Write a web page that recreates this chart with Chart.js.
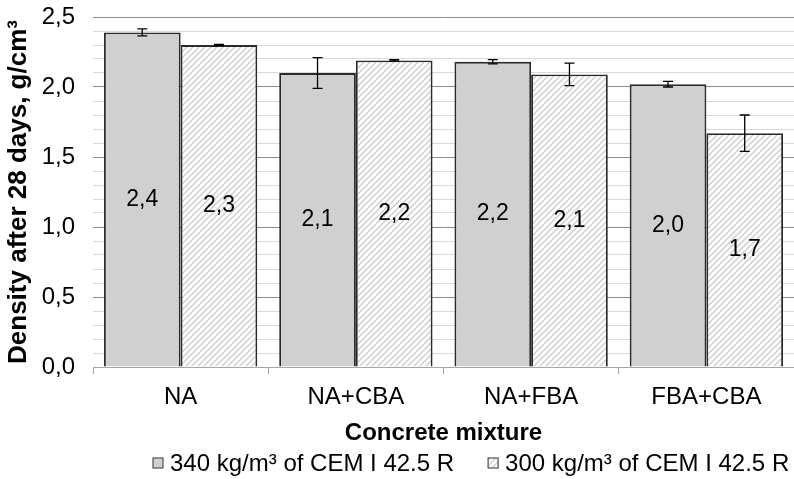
<!DOCTYPE html>
<html>
<head>
<meta charset="utf-8">
<script src="https://cdn.jsdelivr.net/npm/chart.js@4/dist/chart.umd.min.js"></script>
<style>
  html, body { margin: 0; padding: 0; background: #fff; }
  #wrap { width: 794px; height: 479px; }
</style>
</head>
<body>
<div id="wrap"><canvas id="mycanvas" width="794" height="479"></canvas></div>
<script>
var mixtures = ['NA', 'NA+CBA', 'NA+FBA', 'FBA+CBA'];
var density340 = [2.39, 2.10, 2.18, 2.02];
var error340 = [0.025, 0.11, 0.015, 0.02];
var density300 = [2.30, 2.19, 2.09, 1.67];
var error300 = [0.005, 0.005, 0.08, 0.13];
var seriesNames = ['340 kg/m\u00b3 of CEM I 42.5 R', '300 kg/m\u00b3 of CEM I 42.5 R'];

var font = '"Liberation Sans", Arial, sans-serif';

function hatch() {
	var c = document.createElement('canvas');
	c.width = 6; c.height = 6;
	var g = c.getContext('2d');
	g.fillStyle = '#ffffff';
	g.fillRect(0, 0, 6, 6);
	g.strokeStyle = '#cdcdcd';
	g.lineWidth = 1.4;
	g.beginPath();
	g.moveTo(-1, 7); g.lineTo(7, -1);
	g.moveTo(-4, 4); g.lineTo(4, -4);
	g.moveTo(2, 10); g.lineTo(10, 2);
	g.stroke();
	return g.createPattern(c, 'repeat');
}

function comma(v) { return v.toFixed(1).replace('.', ','); }

var extras = {
	id: 'extras',
	afterDatasetsDraw: function(chart) {
		var ctx = chart.ctx;
		var y = chart.scales.y;
		var errs = [error340, error300];
		ctx.save();
		chart.data.datasets.forEach(function(ds, di) {
			var meta = chart.getDatasetMeta(di);
			meta.data.forEach(function(bar, i) {
				var v = ds.data[i];
				// value label in the middle of the bar
				ctx.fillStyle = '#000';
				ctx.font = '23px ' + font;
				ctx.textAlign = 'center';
				ctx.textBaseline = 'middle';
				ctx.fillText(comma(v), bar.x, (bar.y + bar.base) / 2);
				// error bar
				var top = y.getPixelForValue(v + errs[di][i]);
				var bot = y.getPixelForValue(v - errs[di][i]);
				ctx.strokeStyle = '#000';
				ctx.lineWidth = 1.3;
				ctx.beginPath();
				ctx.moveTo(bar.x, top); ctx.lineTo(bar.x, bot);
				ctx.moveTo(bar.x - 5, top); ctx.lineTo(bar.x + 5, top);
				ctx.moveTo(bar.x - 5, bot); ctx.lineTo(bar.x + 5, bot);
				ctx.stroke();
			});
		});
		ctx.restore();
	},
	afterDraw: function(chart) {
		// legend row under the axis title
		var ctx = chart.ctx;
		ctx.save();
		ctx.font = '24px ' + font;
		ctx.textBaseline = 'middle';
		ctx.textAlign = 'left';
		var x = 153, yy = 463;
		chart.data.datasets.forEach(function(ds) {
			ctx.fillStyle = ds.backgroundColor;
			ctx.fillRect(x, yy - 5, 10, 10);
			ctx.strokeStyle = '#505050';
			ctx.lineWidth = 1.2;
			ctx.strokeRect(x, yy - 5, 10, 10);
			ctx.fillStyle = '#000';
			ctx.fillText(ds.label, x + 17, yy + 1);
			x += 17 + ctx.measureText(ds.label).width + 34;
		});
		ctx.restore();
	}
};

var chartdata = {
	labels: mixtures,
	datasets: [
		{
			label: seriesNames[0],
			backgroundColor: '#d0d0d0',
			borderColor: '#2b2b2b',
			borderWidth: 1.9,
			data: density340
		},
		{
			label: seriesNames[1],
			backgroundColor: hatch(),
			borderColor: '#2b2b2b',
			borderWidth: 1.9,
			data: density300
		}
	]
};

var barGraph = new Chart(document.getElementById('mycanvas'), {
	type: 'bar',
	data: chartdata,
	options: {
		responsive: false,
		animation: false,
		datasets: { bar: { categoryPercentage: 0.875, barPercentage: 1.0 } },
		layout: { padding: { left: 3, right: 0, top: 0, bottom: 34 } },
		plugins: {
			tooltip: { enabled: false },
			legend: { display: false }
		},
		scales: {
			x: {
				grid: { offset: true, drawOnChartArea: false, tickLength: 7, color: '#a6a6a6' },
				border: { color: '#a6a6a6' },
				ticks: { font: { family: font, size: 24, lineHeight: 1 }, color: '#000', padding: 11 },
				title: { display: true, text: 'Concrete mixture', font: { family: font, size: 24, weight: 'bold', lineHeight: 1 }, color: '#000', padding: { top: 1, bottom: 0 } }
			},
			y: {
				min: 0,
				max: 2.5,
				border: { display: false },
				afterFit: function(s) { s.paddingTop = 17; s.width = 90; },
				grid: {
					drawTicks: false,
					color: function(c) {
						var v = c.tick.value;
						return Math.abs(v * 2 - Math.round(v * 2)) < 1e-6 ? '#8c8c8c' : '#d9d9d9';
					}
				},
				ticks: {
					stepSize: 0.1,
					autoSkip: false,
					padding: 18,
					font: { family: font, size: 24 },
					color: '#000',
					callback: function(v) {
						return Math.abs(v * 2 - Math.round(v * 2)) < 1e-6 ? comma(v) : '';
					}
				},
				title: { display: true, text: 'Density after 28 days, g/cm\u00b3', font: { family: font, size: 26, weight: 'bold' }, color: '#000', padding: { top: 0, bottom: 4 } }
			}
		}
	},
	plugins: [extras]
});
</script>
</body>
</html>
